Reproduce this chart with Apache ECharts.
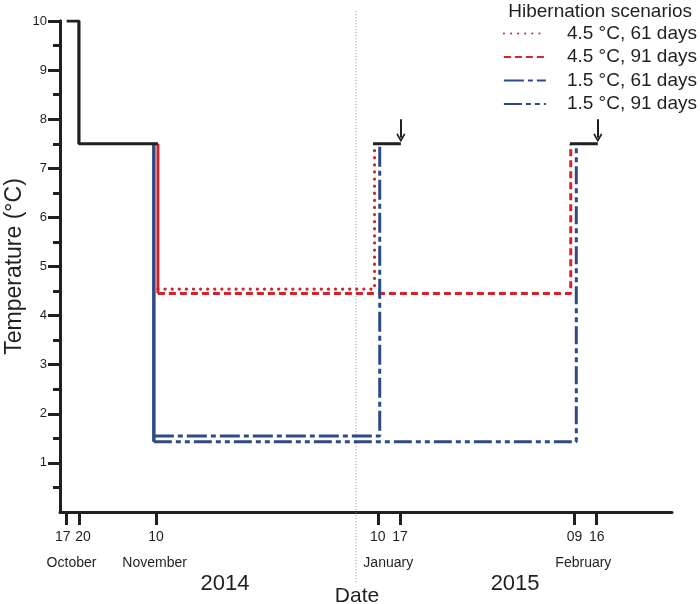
<!DOCTYPE html>
<html>
<head>
<meta charset="utf-8">
<script src="https://cdn.jsdelivr.net/npm/echarts@6/dist/echarts.min.js"></script>
<style>
  html, body { margin: 0; padding: 0; background: #fff; }
  #chart { width: 700px; height: 604px; }
</style>
</head>
<body>
<div id="chart"></div>
<script>
// schematic x positions (the original axis is not to scale)
const dayTickPos = [1.8, 5.1, 25.9, 85.7, 91.7, 138.7, 144.7];
const dayTickLabels = ['17', '20', '10', '10', '17', '09', '16'];
const monthPos = [3.1, 25.5, 88.5, 141.1];
const monthLabels = ['October', 'November', 'January', 'February'];
const yearPos = [44.5, 122.7];
const yearLabels = ['2014', '2015'];
const yearBreak = 79.8;

const yMajor = [1, 2, 3, 4, 5, 6, 7, 8, 9, 10];
const yMinor = [0.5, 1.5, 2.5, 3.5, 4.5, 5.5, 6.5, 7.5, 8.5, 9.5];

// temperature steps
const blackStart = [[1.8, 10], [5.1, 10], [5.1, 7.5], [26.4, 7.5]];
const blackJan = [[84.4, 7.5], [91.9, 7.5]];
const blackFeb = [[137.5, 7.5], [145, 7.5]];
const redDrop = [[26.4, 7.5], [26.4, 4.45]];
const blueDrop = [[25.3, 7.5], [25.3, 1.43]];
const warm61 = [[26.4, 4.54], [84.8, 4.54], [84.8, 7.5]];
const warm91 = [[26.4, 4.45], [137.7, 4.45], [137.7, 7.5]];
const cold61 = [[25.3, 1.55], [86.2, 1.55], [86.2, 7.5]];
const cold91 = [[25.3, 1.43], [139.2, 1.43], [139.2, 7.5]];
const arrows = [[[91.9, 8.0], [91.9, 7.62]], [[145, 8.0], [145, 7.62]]];
const breakLine = [[yearBreak, -1.43], [yearBreak, 10.2]];

const names = ['4.5 °C, 61 days', '4.5 °C, 91 days', '1.5 °C, 61 days', '1.5 °C, 91 days'];
const red = '#d3242b';
const blue = '#2e4a84';
const ink = '#231f20';
const font = 'Liberation Sans, Arial, sans-serif';

function pick(pos, labels) {
  return function (v) {
    for (let i = 0; i < pos.length; i++) {
      if (Math.abs(pos[i] - v) < 0.01) return labels[i];
    }
    return '';
  };
}

// day labels sit very close together, so alternate them over two label axes;
// the 17/20 October pair is nudged apart like in the original
function dayLabel(v) {
  const i = dayTickPos.findIndex(function (p) { return Math.abs(p - v) < 0.01; });
  if (i < 0) return '';
  if (i === 0) return '{l|' + dayTickLabels[i] + '}';
  if (i === 1) return '{r|' + dayTickLabels[i] + '}';
  return dayTickLabels[i];
}
const dayRich = {
  l: { fontSize: 14, color: ink, fontFamily: font, padding: [0, 8, 0, 0] },
  r: { fontSize: 14, color: ink, fontFamily: font, padding: [0, 0, 0, 8] }
};
const dayPosA = dayTickPos.filter(function (v, i) { return i % 2 === 0; });
const dayPosB = dayTickPos.filter(function (v, i) { return i % 2 === 1; });

const chart = echarts.init(document.getElementById('chart'));

const baseX = {
  type: 'value', min: 0, max: 165, position: 'bottom', gridIndex: 0,
  splitLine: { show: false }
};

function labelAxis(pos, formatter, margin, size, extra) {
  return Object.assign({}, baseX, {
    axisLine: { show: false }, axisTick: { show: false },
    axisLabel: {
      customValues: pos, formatter: formatter, rich: dayRich,
      hideOverlap: false, showMinLabel: true, showMaxLabel: true,
      margin: margin, fontSize: size, color: ink, fontFamily: font
    }
  }, extra || {});
}

const option = {
  animation: false,
  backgroundColor: '#fff',
  textStyle: { fontFamily: font, color: ink },
  title: {
    text: 'Hibernation scenarios',
    right: 3, top: -3,
    textStyle: { fontFamily: font, fontSize: 19, fontWeight: 'normal', color: ink }
  },
  legend: {
    data: names,
    orient: 'vertical',
    right: 3, top: 23,
    align: 'left',
    itemWidth: 42, itemHeight: 14, itemGap: 2.5,
    padding: 0,
    itemStyle: { opacity: 0 },
    textStyle: { fontFamily: font, fontSize: 19, lineHeight: 21, color: ink, padding: [0, 0, 0, 16] }
  },
  grid: { left: 60, right: 28, top: 21, bottom: 92, outerBoundsMode: 'none' },
  xAxis: [
    Object.assign({}, baseX, {
      axisLine: { onZero: false, lineStyle: { color: ink, width: 3 } },
      axisTick: { customValues: dayTickPos, length: 13, lineStyle: { color: ink, width: 3 } },
      axisLabel: { show: false }
    }),
    labelAxis(dayPosA, dayLabel, 18, 14),
    labelAxis(dayPosB, dayLabel, 18, 14),
    labelAxis(monthPos, pick(monthPos, monthLabels), 44, 14),
    labelAxis(yearPos, pick(yearPos, yearLabels), 61, 22, {
      name: 'Date', nameLocation: 'middle', nameGap: 74, nameMoveOverlap: false,
      nameTextStyle: { fontSize: 21, color: ink, fontFamily: font, padding: [0, 18, 0, 0] }
    })
  ],
  yAxis: [
    {
      type: 'value', min: 0, max: 10, position: 'left',
      name: 'Temperature (°C)', nameLocation: 'middle', nameGap: 34, nameMoveOverlap: false,
      nameTextStyle: { fontSize: 23, color: ink, fontFamily: font },
      splitLine: { show: false },
      axisLine: { onZero: false, lineStyle: { color: ink, width: 3 } },
      axisTick: { customValues: yMajor, length: 12, lineStyle: { color: ink, width: 3 } },
      axisLabel: { customValues: yMajor, margin: 13, fontSize: 13, color: ink, fontFamily: font }
    },
    {
      type: 'value', min: 0, max: 10, position: 'left',
      splitLine: { show: false },
      axisLine: { onZero: false, lineStyle: { color: ink, width: 3 } },
      axisTick: { customValues: yMinor, length: 7, lineStyle: { color: ink, width: 3 } },
      axisLabel: { show: false }
    }
  ],
  series: [
    {
      type: 'line', name: 'break', data: breakLine, symbol: 'none', clip: false, silent: true,
      lineStyle: { color: '#8a8a8a', width: 1, type: [1, 2] }
    },
    {
      type: 'line', name: 'redDrop', data: redDrop, symbol: 'none',
      lineStyle: { color: red, width: 3 }
    },
    {
      type: 'line', name: 'blueDrop', data: blueDrop, symbol: 'none',
      lineStyle: { color: blue, width: 3.5 }
    },
    {
      type: 'line', name: names[0], data: warm61, symbol: 'none', color: red,
      lineStyle: { color: red, width: 3.2, type: [0.1, 7], cap: 'round' }
    },
    {
      type: 'line', name: names[1], data: warm91, symbol: 'none', color: red,
      lineStyle: { color: red, width: 3, type: [7, 4] }
    },
    {
      type: 'line', name: names[2], data: cold61, symbol: 'none', color: blue,
      lineStyle: { color: blue, width: 3, type: [20, 4, 5, 4] }
    },
    {
      type: 'line', name: names[3], data: cold91, symbol: 'none', color: blue,
      lineStyle: { color: blue, width: 3, type: [18, 4, 5, 4, 5, 4] }
    },
    {
      type: 'line', name: 'black', data: blackStart, symbol: 'none',
      lineStyle: { color: ink, width: 3.2 }
    },
    {
      type: 'line', name: 'blackJan', data: blackJan, symbol: 'none',
      lineStyle: { color: ink, width: 3.2 }
    },
    {
      type: 'line', name: 'blackFeb', data: blackFeb, symbol: 'none',
      lineStyle: { color: ink, width: 3.2 }
    },
    {
      type: 'lines', name: 'arrows', coordinateSystem: 'cartesian2d',
      symbol: ['none', 'path://M5,0 L10,7 L8.6,8 L5,3 L1.4,8 L0,7 Z'],
      symbolSize: [12, 9],
      lineStyle: { color: ink, width: 2, opacity: 1 },
      itemStyle: { color: ink },
      data: arrows.map(function (c) { return { coords: c }; })
    }
  ]
};

chart.setOption(option);
</script>
</body>
</html>
